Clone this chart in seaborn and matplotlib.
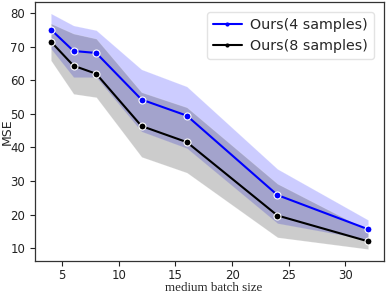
import matplotlib
matplotlib.use("Agg")
import matplotlib.pyplot as plt
import seaborn as sns
import pandas as pd

batch = [4, 6, 8, 12, 16, 24, 32]
mse4 = [75.2, 68.8, 68.2, 54.3, 49.5, 25.8, 15.6]
mse4_hi = [80.0, 76.4, 75.0, 63.3, 58.2, 33.6, 18.4]
mse4_lo = [69.5, 61.0, 61.0, 44.8, 39.8, 17.4, 12.5]
mse8 = [71.6, 64.4, 62.0, 46.4, 41.6, 19.7, 12.0]
mse8_hi = [77.0, 74.0, 72.5, 56.5, 52.0, 29.2, 15.3]
mse8_lo = [66.0, 56.0, 55.0, 37.2, 32.5, 13.2, 9.7]
labels = ["Ours(4 samples)", "Ours(8 samples)"]
xlabel = "medium batch size"
ylabel = "MSE"

sns.set_style("ticks")
plt.rcParams['font.family'] = ['DejaVu Sans']

fig = plt.figure(figsize=(3.86, 2.92), dpi=100)
ax = fig.add_axes([0.0907, 0.107, 0.904, 0.886])

df = pd.DataFrame({
    "x": batch * 2,
    "y": mse4 + mse8,
    "s": [labels[0]] * len(batch) + [labels[1]] * len(batch),
})

colors = ["#0000ff", "#000000"]
for lo, hi, c in [(mse4_lo, mse4_hi, colors[0]), (mse8_lo, mse8_hi, colors[1])]:
    ax.fill_between(batch, lo, hi, color=c, alpha=0.2, edgecolor="white", linewidth=0.6)

sns.lineplot(data=df, x="x", y="y", hue="s", palette=colors, marker="o",
             markersize=5, markeredgecolor="white", markeredgewidth=0.8,
             linewidth=1.5, ax=ax, legend=True)

ax.set_xlim(2.6, 33.4)
ax.set_ylim(6.2, 83.4)
ax.set_xticks([5, 10, 15, 20, 25, 30])
ax.set_yticks([10, 20, 30, 40, 50, 60, 70, 80])
ax.tick_params(labelsize=8.5, length=3.5, width=0.8, colors="#222222")
ax.tick_params(axis="x", pad=2.6)
ax.set_xlabel(xlabel, family=["Liberation Serif"], fontsize=9.4)
ax.set_ylabel(ylabel, fontsize=9)
ax.xaxis.set_label_coords(0.513, -0.081)
ax.yaxis.set_label_coords(-0.062, 0.5)
for sp in ax.spines.values():
    sp.set_linewidth(0.9)
    sp.set_color("#333333")

leg = ax.legend(loc="upper right", fontsize=10.3, frameon=True, handlelength=2.0,
                borderaxespad=0.7, handletextpad=0.6)
leg.get_frame().set_edgecolor("#dddddd")
for h in leg.legend_handles:
    h.set_markersize(3)
    h.set_markeredgewidth(0)

fig.savefig("out.png", dpi=100)
